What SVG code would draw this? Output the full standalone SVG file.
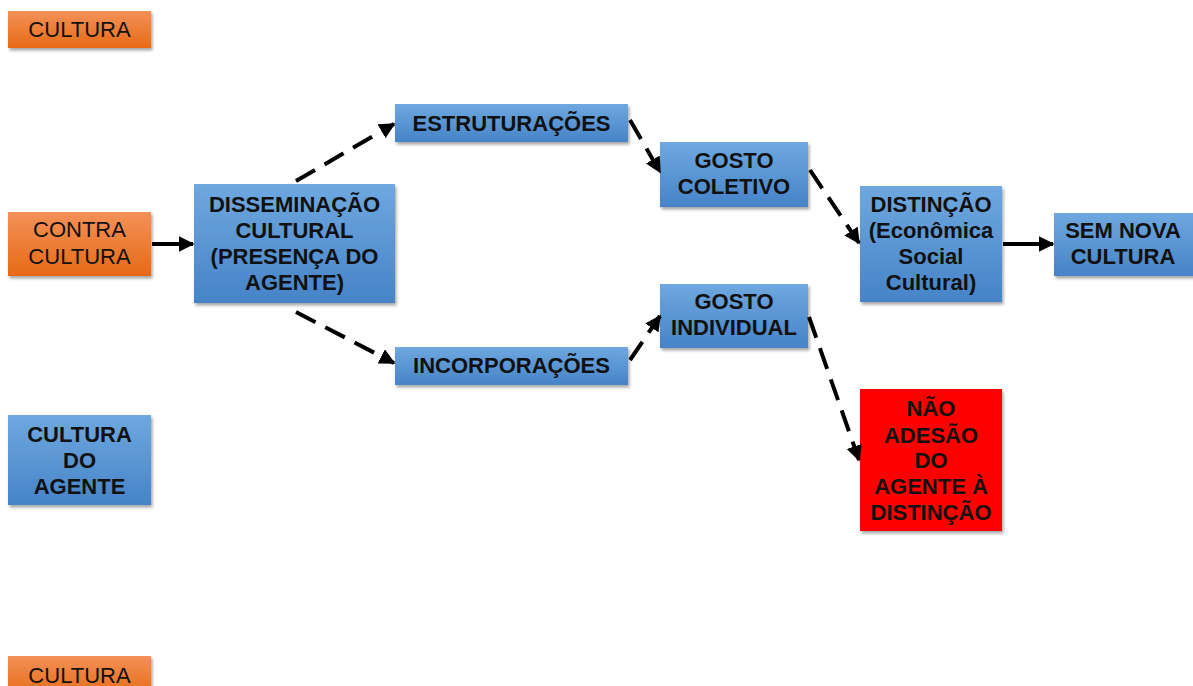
<svg xmlns="http://www.w3.org/2000/svg" width="1193" height="686" viewBox="0 0 1193 686">
<style>
.t{font-family:"Liberation Sans",Arial,sans-serif;font-size:22px;fill:#111;text-anchor:middle}
.b{font-weight:bold}
.c{stroke:#000;stroke-width:4;fill:none}
.d{stroke-dasharray:22 11}
</style>
<defs>
<linearGradient id="gb" x1="0" y1="0" x2="0" y2="1"><stop offset="0" stop-color="#6fa8df"/><stop offset="1" stop-color="#4683c8"/></linearGradient>
<linearGradient id="go" x1="0" y1="0" x2="0" y2="1"><stop offset="0" stop-color="#f39158"/><stop offset="1" stop-color="#e66a16"/></linearGradient>
<filter id="sh" x="-10%" y="-10%" width="125%" height="130%"><feDropShadow dx="1.5" dy="2.5" stdDeviation="1.5" flood-color="#000" flood-opacity="0.35"/></filter>
<marker id="ah" viewBox="0 0 10 10" refX="9" refY="5" markerWidth="4" markerHeight="4" orient="auto" markerUnits="strokeWidth"><path d="M0,0 L10,5 L0,10 z" fill="#000"/></marker>
</defs>
<g id="n-cultura1"><rect x="8" y="11" width="143" height="37" fill="url(#go)" filter="url(#sh)"/><text class="t" x="79.5" y="37">CULTURA</text></g>
<g id="n-contra"><rect x="8" y="212" width="143" height="64" fill="url(#go)" filter="url(#sh)"/><text class="t" x="79.5" y="237">CONTRA</text><text class="t" x="79.5" y="264">CULTURA</text></g>
<g id="n-agente"><rect x="8" y="415" width="143" height="90" fill="url(#gb)" filter="url(#sh)"/><text class="t b" x="79.5" y="442">CULTURA</text><text class="t b" x="79.5" y="468">DO</text><text class="t b" x="79.5" y="494">AGENTE</text></g>
<g id="n-cultura2"><rect x="8" y="656" width="143" height="40" fill="url(#go)" filter="url(#sh)"/><text class="t" x="79.5" y="683">CULTURA</text></g>
<g id="n-dissem"><rect x="194" y="184" width="201" height="119" fill="url(#gb)" filter="url(#sh)"/><text class="t b" x="294.5" y="212">DISSEMINAÇÃO</text><text class="t b" x="294.5" y="238">CULTURAL</text><text class="t b" x="294.5" y="264">(PRESENÇA DO</text><text class="t b" x="294.5" y="290">AGENTE)</text></g>
<g id="n-estr"><rect x="395" y="104" width="233" height="38" fill="url(#gb)" filter="url(#sh)"/><text class="t b" x="511.5" y="131">ESTRUTURAÇÕES</text></g>
<g id="n-incorp"><rect x="395" y="347" width="233" height="38" fill="url(#gb)" filter="url(#sh)"/><text class="t b" x="511.5" y="373">INCORPORAÇÕES</text></g>
<g id="n-gcol"><rect x="660" y="142" width="148" height="65" fill="url(#gb)" filter="url(#sh)"/><text class="t b" x="734" y="168">GOSTO</text><text class="t b" x="734" y="194">COLETIVO</text></g>
<g id="n-gind"><rect x="660" y="284" width="148" height="64" fill="url(#gb)" filter="url(#sh)"/><text class="t b" x="734" y="309">GOSTO</text><text class="t b" x="734" y="335">INDIVIDUAL</text></g>
<g id="n-dist"><rect x="860" y="186" width="142" height="116" fill="url(#gb)" filter="url(#sh)"/><text class="t b" x="931" y="212">DISTINÇÃO</text><text class="t b" x="931" y="238">(Econômica</text><text class="t b" x="931" y="264">Social</text><text class="t b" x="931" y="290">Cultural)</text></g>
<g id="n-semnova"><rect x="1054" y="213" width="145" height="63" fill="url(#gb)" filter="url(#sh)"/><text class="t b" x="1123" y="238">SEM NOVA</text><text class="t b" x="1123" y="264">CULTURA</text></g>
<g id="n-nao"><rect x="860" y="389" width="142" height="142" fill="#ff0000" filter="url(#sh)"/><text class="t b" x="931" y="416">NÃO</text><text class="t b" x="931" y="443">ADESÃO</text><text class="t b" x="931" y="468">DO</text><text class="t b" x="931" y="494">AGENTE À</text><text class="t b" x="931" y="520">DISTINÇÃO</text></g>
<g id="connectors">
<line class="c" x1="152" y1="244" x2="193" y2="244" marker-end="url(#ah)"/>
<line class="c d" x1="296" y1="181" x2="394" y2="124" marker-end="url(#ah)"/>
<line class="c d" x1="296" y1="312" x2="394" y2="363" marker-end="url(#ah)"/>
<line class="c d" x1="630" y1="120" x2="660" y2="172" marker-end="url(#ah)"/>
<line class="c d" x1="630" y1="360" x2="660" y2="316" marker-end="url(#ah)"/>
<line class="c d" x1="810" y1="170" x2="859" y2="243" marker-end="url(#ah)"/>
<line class="c" x1="1003" y1="244" x2="1053" y2="244" marker-end="url(#ah)"/>
<line class="c d" x1="809" y1="317" x2="859" y2="460" marker-end="url(#ah)"/>
</g>
</svg>
